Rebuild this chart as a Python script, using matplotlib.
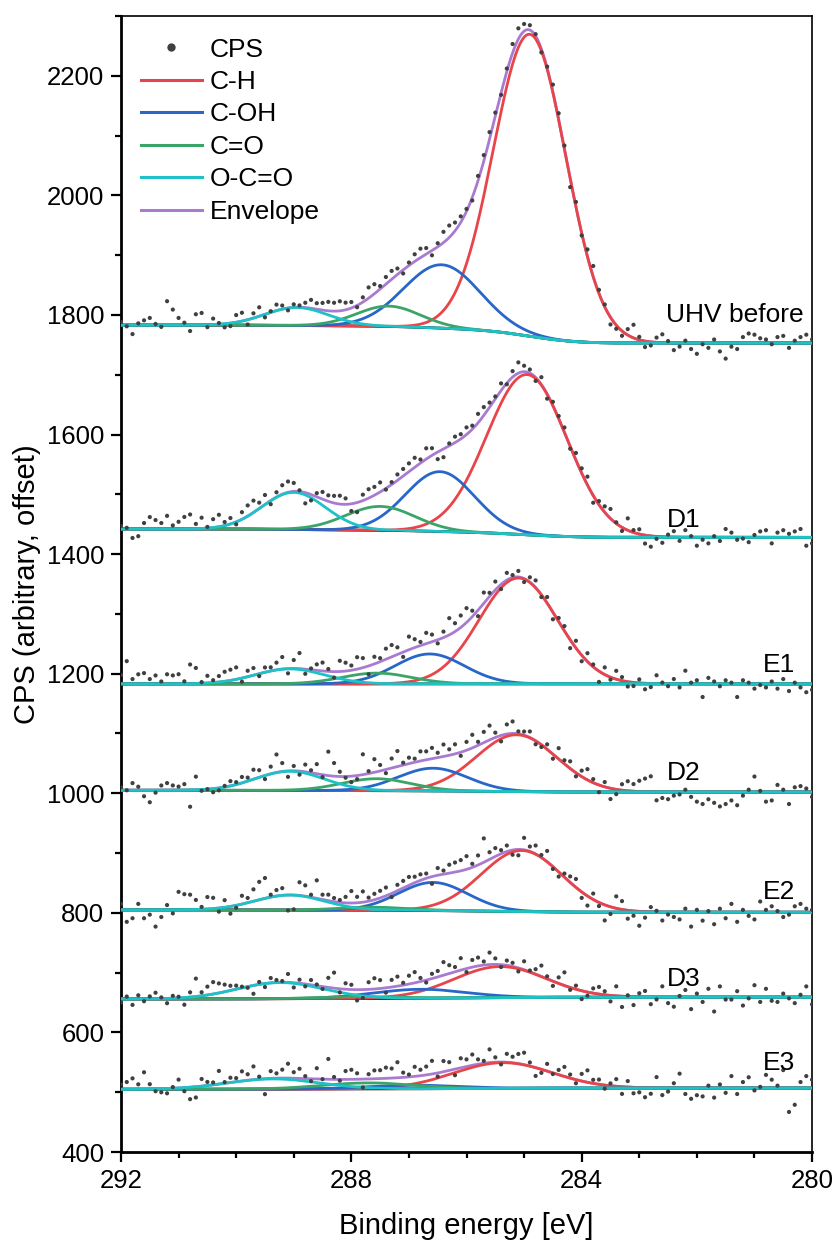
import numpy as np
import matplotlib.pyplot as plt
from matplotlib.ticker import MultipleLocator
from matplotlib.lines import Line2D

plt.rcParams['font.family'] = ['Liberation Sans', 'DejaVu Sans']

samples = ["UHV before", "D1", "E1", "D2", "E2", "D3", "E3"]
components = ["C-H", "C-OH", "C=O", "O-C=O"]

# fitted peaks, one row per sample, columns C-H, C-OH, C=O, O-C=O
peak_centers = [
    [284.90, 286.43, 287.35, 288.95],
    [284.95, 286.46, 287.50, 289.00],
    [285.10, 286.64, 287.56, 289.07],
    [285.13, 286.58, 287.56, 289.07],
    [285.04, 286.58, 287.60, 289.07],
    [285.42, 286.80, 287.80, 289.24],
    [285.37, 286.90, 287.70, 289.36],
]
peak_heights = [
    [505, 106, 34, 30],
    [268, 100, 40, 62],
    [177, 50, 18, 25],
    [95, 38, 20, 32],
    [102, 47, 5, 25],
    [52, 15, 3, 27],
    [43, 6, 10, 17],
]
peak_sigmas = [
    [0.63, 0.66, 0.55, 0.55],
    [0.70, 0.60, 0.60, 0.55],
    [0.68, 0.60, 0.60, 0.60],
    [0.70, 0.60, 0.60, 0.60],
    [0.70, 0.60, 0.60, 0.60],
    [0.80, 0.80, 0.70, 0.75],
    [0.85, 0.80, 0.80, 0.80],
]
# background level at 292 eV and at 280 eV
base_left = [1783, 1442, 1183, 1005, 805, 656, 505]
base_right = [1753, 1428, 1183, 1002, 801, 659, 507]

# measured CPS minus envelope, 292.0 -> 280.0 eV in 0.1 eV steps
resid_uhv = [
    5, -2, -15, 3, 8, 12, 2, -3, 40, 26,
    12, 4, -10, 18, 20, -4, 10, 2, -6, -5,
    12, 14, -8, 8, 15, -5, 2, 10, 6, -4,
    5, 3, 8, 14, 10, 12, 15, 14, 16, 12,
    10, -3, 8, 18, 16, 5, 12, 14, 10, -6,
    5, 12, 15, 10, -8, 6, 18, 20, 14, 10,
    4, -5, 8, 10, 12, 6, -3, 5, 15, 18,
    12, 8, 3, -6, 2, 12, 10, 5, -15, 8,
    -4, 12, 18, 6, 4, -12, -6, -8, 10, 22,
    5, -10, -6, 8, 14, 3, -12, -6, 4, -10,
    -18, -2, -8, 6, -14, -26, -6, -10, 10, 16,
    14, 8, 6, -2, 10, 12, -8, 4, 10, 14,
    6]
resid_d1 = [
    5, 2, -15, -12, 10, 20, 15, 10, 22, 6,
    12, 20, 24, 8, 18, 2, 14, 20, 6, 10,
    -4, 12, 18, 20, 10, 16, -6, 8, 15, 18,
    14, 2, -18, -10, 6, 12, 10, 12, 14, 10,
    -12, -16, 10, 15, 14, 16, -2, 4, 10, 12,
    14, 16, 6, 18, 12, -12, -14, 4, 10, 8,
    12, 6, 15, 14, 8, 4, 12, -2, 10, 18,
    10, 6, -6, 12, -8, 6, 4, 8, -4, 12,
    8, 14, -12, 6, 10, 16, 2, -6, 20, 4,
    8, -14, -18, -4, -10, 4, 10, -6, 12, 2,
    -14, -4, -10, 2, -6, 14, 8, -4, -2, -8,
    4, 10, 12, -10, 8, 12, 6, 10, 14, -14,
    -10]
resid_e1 = [
    15, 38, 8, 16, 18, 8, 14, 4, 16, 14,
    16, 4, 32, 26, 2, 12, 4, 10, 16, 18,
    20, -6, 10, 12, -4, 8, 6, 12, 20, -8,
    14, 26, -8, 2, 10, 14, 4, -10, 18, 14,
    8, 20, 16, -14, 12, 6, 18, 20, 12, -8,
    22, 14, 6, 18, 12, -6, 10, 28, 14, 20,
    24, 10, -10, 18, 6, 14, -8, 12, 4, 10,
    -6, 8, 12, -4, 10, -12, 6, 8, -14, 12,
    -10, 14, 4, -18, 12, -4, 14, 6, -8, -6,
    6, -10, -6, 14, 2, -4, 8, -6, 22, 2,
    6, -22, 10, 4, -4, 6, 2, -22, 6, 2,
    -8, -2, -6, 4, -8, 8, -12, 2, -6, -14,
    -10]
resid_d2 = [
    5, 0, 12, 6, -10, -20, -4, 8, 12, 8,
    6, 10, -28, 22, -2, 0, -6, -4, 2, 8,
    4, 10, 6, 16, 12, -6, 12, 30, 14, -10,
    8, -6, 12, 4, 16, -4, 40, 22, 8, -2,
    -10, -6, 34, 4, 22, 10, -6, 16, 26, 4,
    10, 6, 16, 14, 18, 8, 20, 10, 16, -6,
    14, 22, 6, 18, 24, 8, -10, 16, 20, 4,
    6, 10, -6, -4, 8, -8, 18, 6, 12, -6,
    10, 18, 6, -12, 8, -18, -8, 10, 16, 12,
    18, 22, 26, -14, -10, -12, -6, -4, 4, -8,
    -16, -20, -12, -18, -24, -20, -14, -22, -6, 4,
    26, 2, -16, -14, 12, 4, -20, 8, 10, 6,
    -8]
resid_e2 = [
    10, -20, -14, 10, -14, -8, -28, -12, 8, -6,
    30, 26, 25, 16, 4, 20, 18, -6, 12, -12,
    -4, 14, 8, 20, 30, 34, 4, 10, 12, -26,
    -24, 22, 18, 4, 30, 8, 10, 6, 4, 10,
    20, 10, 18, 6, 10, 12, 14, -6, 10, 12,
    14, 10, 10, 8, -12, 12, 6, 14, 16, 18,
    22, 6, 16, 40, 12, 14, 6, 10, -8, -10,
    20, 8, 14, 4, 18, -4, -8, 6, 10, 14,
    -10, -16, 10, -6, -26, -12, 20, 14, -14, -8,
    -24, -10, 8, 2, -14, -4, -8, -12, 6, -24,
    4, -14, 2, -20, 6, -10, 14, -16, 4, -6,
    -12, 18, 4, 10, 2, -8, -4, 10, 14, 6,
    4]
resid_d3 = [
    -6, 4, -10, 6, -4, 4, 10, 2, -8, 4,
    2, -12, 8, 30, 6, 14, 20, 16, 12, 8,
    6, 2, -2, -14, 4, -6, 8, 4, 2, 14,
    -8, 6, -4, 8, 2, -4, 16, 26, -6, 10,
    8, -18, -14, 12, 18, 14, -8, 12, 16, 4,
    14, 18, 6, -4, 8, 10, 22, 14, 8, 20,
    -6, 12, 14, 6, 20, 10, -4, 8, 6, -6,
    14, 2, 8, 18, 4, -8, 10, 22, -4, 6,
    -14, -6, 8, 12, 6, -10, 16, -18, 2, -14,
    6, 10, -12, -4, 18, -10, -16, 2, 12, -20,
    6, -8, 14, -24, 18, -4, -4, 10, -14, -2,
    20, -8, 14, -6, -8, 6, -2, -10, 4, 18,
    -12]
resid_e3 = [
    8, 12, 18, 8, 28, 8, -4, -6, -8, 2,
    14, -6, -20, -18, 12, 6, 4, 22, 2, 8,
    6, 16, 10, 22, 4, -26, 12, 8, 14, 24,
    10, 16, 4, -4, 18, 0, 34, 4, -2, 14,
    16, 10, -14, 8, 14, 14, 18, 16, 26, 8,
    4, 16, 10, 14, 22, -6, 18, 14, -10, 16,
    12, 18, 8, 4, 22, 8, -4, 14, 10, 16,
    20, 6, -14, -6, 12, -2, 8, 16, 6, -6,
    12, 20, 6, 8, -6, 4, 12, -12, 10, -10,
    -8, -16, -10, 18, -12, -6, 8, 24, -10, -18,
    -12, -14, 4, -16, 6, -8, 20, -10, 10, 18,
    -4, 2, 22, 14, 4, 30, -40, -28, 10, 20,
    14]
residuals = [resid_uhv, resid_d1, resid_e1, resid_d2, resid_e2, resid_d3, resid_e3]

# where each sample name is written (eV, CPS)
label_pos = [(282.53, 1800), (282.52, 1457), (280.85, 1214), (282.52, 1034),
             (280.85, 835), (282.52, 689), (280.85, 549)]

comp_colors = ['#e8454a', '#2866c8', '#3aa566', '#1ec2c6']
env_color = '#a97bd0'
dot_color = '#404040'


def gauss(e, c, h, s):
    return h * np.exp(-(e - c) ** 2 / (2 * s ** 2))


e = np.linspace(280, 292, 1201)
pts = np.arange(1200, -1, -10)   # 292.0 ... 280.0

fig = plt.figure(figsize=(8.35, 12.41), dpi=100)
ax = fig.add_axes([0.1449, 0.0717, 0.8276, 0.9154])

for i, name in enumerate(samples):
    comps = [gauss(e, peak_centers[i][k], peak_heights[i][k], peak_sigmas[i][k]) for k in range(4)]
    total = np.sum(comps, axis=0)
    frac = np.cumsum(total)
    frac = frac / frac[-1]
    base = base_right[i] + (base_left[i] - base_right[i]) * frac
    env = base + total

    ax.plot(e, env, color=env_color, lw=2.0, zorder=2)
    ax.plot(e, base, color='black', lw=2.0, zorder=2)
    for k in range(4):
        ax.plot(e, base + comps[k], color=comp_colors[k], lw=2.0, zorder=3)

    cps = env[pts] + np.array(residuals[i])
    ax.scatter(e[pts], cps, s=9, color=dot_color, edgecolors='none', zorder=5)

    lx, ly = label_pos[i]
    ax.text(lx, ly, name, fontsize=19, ha='left', va='center', zorder=6)

ax.set_xlim(292, 280)
ax.set_ylim(400, 2300)
ax.xaxis.set_major_locator(MultipleLocator(4))
ax.xaxis.set_minor_locator(MultipleLocator(1))
ax.yaxis.set_major_locator(MultipleLocator(200))
ax.yaxis.set_minor_locator(MultipleLocator(100))
ax.tick_params(which='both', direction='out', top=False, right=False, labelsize=18.5, width=1.6)
ax.tick_params(which='major', length=7, pad=5)
ax.tick_params(which='minor', length=4)
for side in ['left', 'bottom']:
    ax.spines[side].set_linewidth(2.0)
for side in ['top', 'right']:
    ax.spines[side].set_linewidth(1.2)

ax.set_xlabel('Binding energy [eV]', fontsize=21, labelpad=14)
ax.set_ylabel('CPS (arbitrary, offset)', fontsize=21, labelpad=4)

handles = [Line2D([], [], ls='none', marker='o', ms=6, color=dot_color, mec='none')]
handles += [Line2D([], [], color=c, lw=2.2) for c in comp_colors]
handles.append(Line2D([], [], color=env_color, lw=2.2))
ax.legend(handles, ['CPS'] + components + ['Envelope'], loc='upper left',
          bbox_to_anchor=(0.029, 0.981), frameon=False, fontsize=19,
          handlelength=2.3, handletextpad=0.3, labelspacing=0.32,
          borderpad=0, borderaxespad=0)

fig.savefig('out.png', dpi=100)
